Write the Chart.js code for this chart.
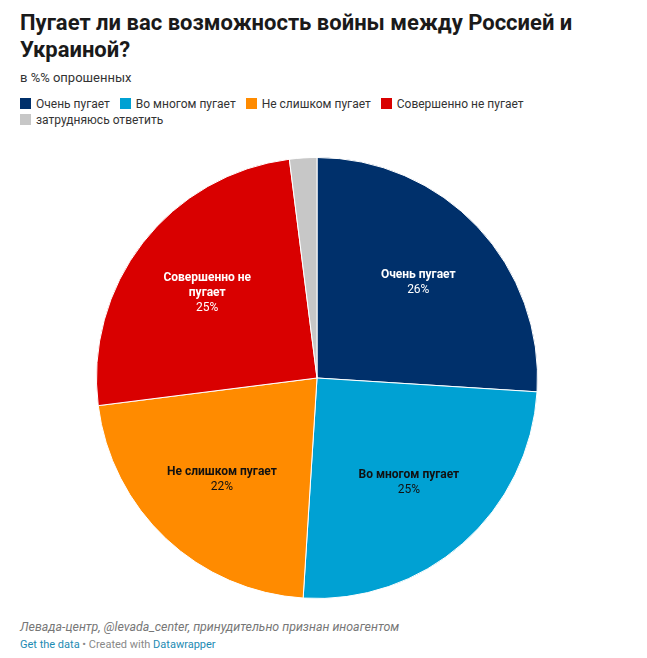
<!DOCTYPE html>
<html lang="ru">
<head>
<meta charset="utf-8">
<script src="https://cdn.jsdelivr.net/npm/chart.js@4"></script>
<style>
  body { margin: 0; background: #fff; font-family: Roboto, Arial, sans-serif; color: #222; }
  #wrap { position: relative; width: 647px; height: 658px; }
  h1 { position: absolute; left: 20px; top: 9px; margin: 0; width: 570px; font-size: 22px; line-height: 27px; font-weight: 700; color: #1a1a1a; }
  .sub { position: absolute; left: 20px; top: 70px; font-size: 13px; color: #333; }
  #legend { position: absolute; left: 20px; top: 96px; width: 600px; font-size: 12px; color: #333; line-height: 16px; }
  #legend span.item { display: inline-block; margin-right: 10px; white-space: nowrap; }
  #legend i { display: inline-block; width: 11px; height: 11px; vertical-align: -1px; margin-right: 5px; }
  #cv { position: absolute; left: 0; top: 156px; }
  .src { position: absolute; left: 20px; top: 619px; font-size: 12.4px; font-style: italic; color: #777; }
  .credit { position: absolute; left: 20px; top: 638px; font-size: 11px; color: #888; }
  .credit a { color: #1d8bb3; text-decoration: none; }
</style>
</head>
<body>
<div id="wrap">
  <h1>Пугает ли вас возможность войны между Россией и Украиной?</h1>
  <div class="sub">в %% опрошенных</div>
  <div id="legend"></div>
  <canvas id="cv" width="634" height="444"></canvas>
  <div class="src">Левада-центр, @levada_center, принудительно признан иноагентом</div>
  <div class="credit"><a href="#">Get the data</a> • Created with <a href="#">Datawrapper</a></div>
</div>
<script>
const categories = ['Очень пугает', 'Во многом пугает', 'Не слишком пугает', 'Совершенно не пугает', 'затрудняюсь ответить'];
const values = [26, 25, 22, 25, 2];
const colors = ['#00306b', '#00a1d3', '#ff8b00', '#d90000', '#c7c7c7'];
const labelColors = ['#fff', '#111', '#111', '#fff', null];
// подписи внутри секторов (с переносом как в оригинале)
const sliceLabels = [['Очень пугает'], ['Во многом пугает'], ['Не слишком пугает'], ['Совершенно не', 'пугает'], null];

const legend = document.getElementById('legend');
categories.forEach(function (c, i) {
  const s = document.createElement('span');
  s.className = 'item';
  s.innerHTML = '<i style="background:' + colors[i] + '"></i>' + c;
  legend.appendChild(s);
  if (i === 3) legend.appendChild(document.createElement('br'));
});

const inLabels = {
  id: 'inLabels',
  afterDatasetsDraw(chart) {
    const ctx = chart.ctx;
    const meta = chart.getDatasetMeta(0);
    meta.data.forEach(function (arc, i) {
      if (!sliceLabels[i]) return;
      const mid = (arc.startAngle + arc.endAngle) / 2;
      const r = arc.outerRadius * 0.63;
      const x = arc.x + Math.cos(mid) * r;
      const y = arc.y + Math.sin(mid) * r;
      const lines = sliceLabels[i];
      const lh = 15;
      const total = lines.length + 1;
      let y0 = y - (total - 1) * lh / 2;
      ctx.save();
      ctx.textAlign = 'center';
      ctx.textBaseline = 'middle';
      ctx.fillStyle = labelColors[i];
      ctx.font = 'bold 12px Roboto, Arial, sans-serif';
      lines.forEach(function (l, k) { ctx.fillText(l, x, y0 + k * lh); });
      ctx.font = '12px Roboto, Arial, sans-serif';
      ctx.fillText(values[i] + '%', x, y0 + lines.length * lh);
      ctx.restore();
    });
  }
};

new Chart(document.getElementById('cv').getContext('2d'), {
  type: 'pie',
  data: {
    labels: categories,
    datasets: [{
      data: values,
      backgroundColor: colors,
      borderColor: '#fff',
      borderWidth: 1
    }]
  },
  options: {
    responsive: false,
    animation: false,
    layout: { padding: 1 },
    plugins: {
      legend: { display: false },
      tooltip: { enabled: false }
    }
  },
  plugins: [inLabels]
});
</script>
</body>
</html>
